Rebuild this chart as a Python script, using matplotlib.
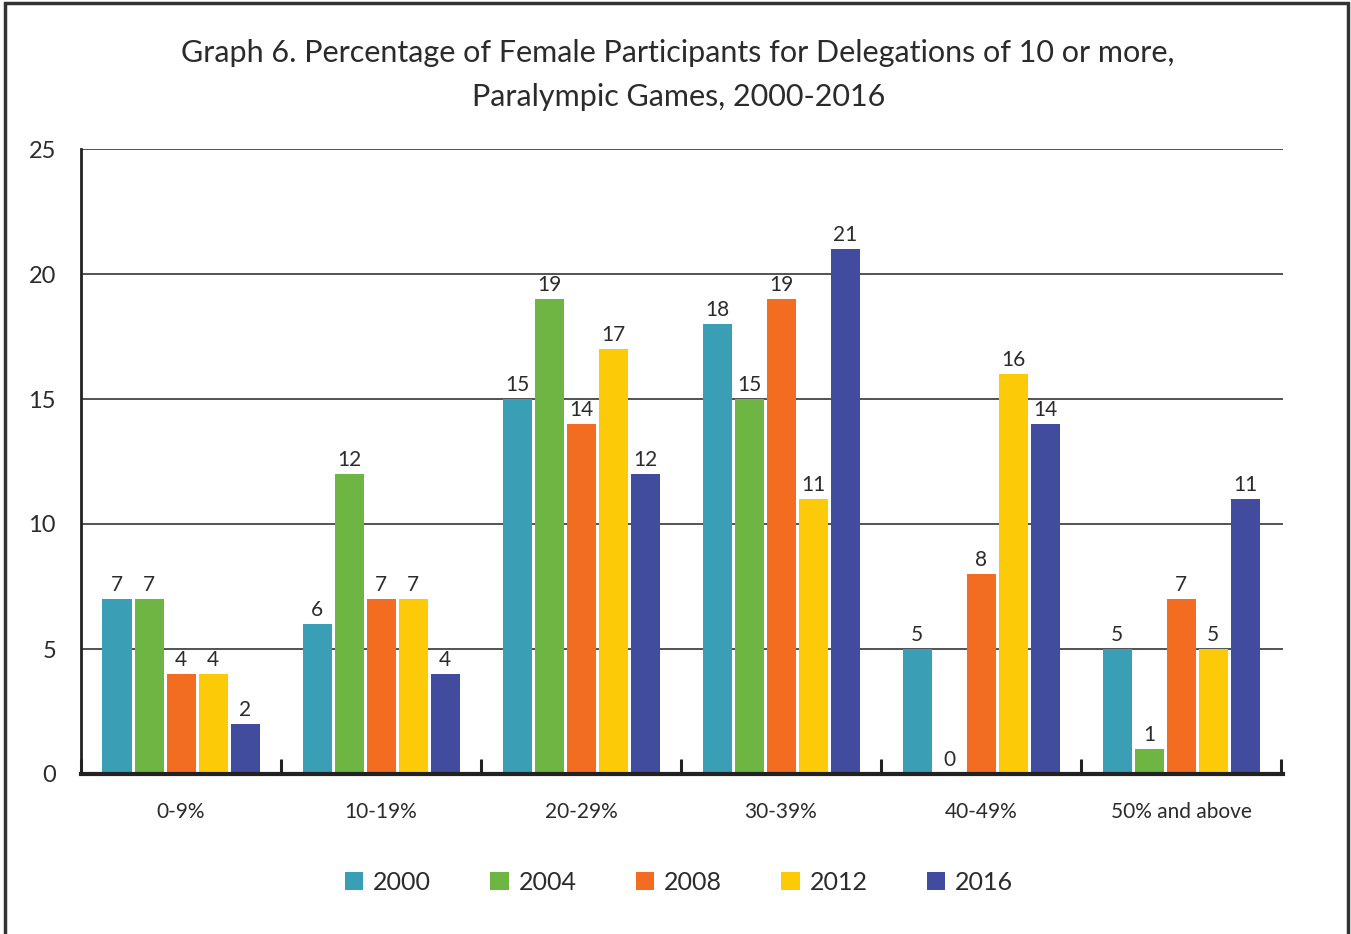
import matplotlib
matplotlib.use("Agg")
import matplotlib.pyplot as plt
import numpy as np
from matplotlib.patches import Rectangle

plt.rcParams['font.family'] = ['Lato', 'DejaVu Sans']

categories = ["0-9%", "10-19%", "20-29%", "30-39%", "40-49%", "50% and above"]
years = ["2000", "2004", "2008", "2012", "2016"]
v2000 = [7, 6, 15, 18, 5, 5]
v2004 = [7, 12, 19, 15, 0, 1]
v2008 = [4, 7, 14, 19, 8, 7]
v2012 = [4, 7, 17, 11, 16, 5]
v2016 = [2, 4, 12, 21, 14, 11]
series = [v2000, v2004, v2008, v2012, v2016]
colors = ["#3A9FB5", "#6EB544", "#F26D22", "#FCCA07", "#424C9E"]
yticks = [0, 5, 10, 15, 20, 25]

text_color = "#2b2b2b"

fig = plt.figure(figsize=(13.51, 9.34), dpi=100)
ax = fig.add_axes([81/1351, 1-774/934, (1283-81)/1351, (774-149)/934])

x = np.arange(len(categories))
pitch = 0.16
width = 0.145
for i, (vals, c, yr) in enumerate(zip(series, colors, years)):
    offs = (i - 2) * pitch
    bars = ax.bar(x + offs, vals, width=width, color=c, label=yr, zorder=3)
    ax.bar_label(bars, labels=[str(v) for v in vals], padding=3,
                 fontsize=15, color=text_color)

ax.set_xlim(-0.5, 5.51)
ax.set_ylim(0, 25)
ax.set_yticks(yticks)
ax.set_yticklabels([str(t) for t in yticks], fontsize=17, color=text_color)
ax.yaxis.grid(True, color="#444444", linewidth=1.3, zorder=0)
ax.tick_params(axis='y', length=0, pad=18)

# category labels
ax.set_xticks(x)
ax.set_xticklabels(categories, fontsize=15, color=text_color)
ax.tick_params(axis='x', which='major', length=0, pad=20)
ax.set_xticks(np.arange(-0.5, 6.0, 1.0), minor=True)
ax.tick_params(axis='x', which='minor', direction='in', length=11, width=2.2, color="#222222")

for s in ['top', 'right']:
    ax.spines[s].set_visible(False)
ax.spines['left'].set_linewidth(2)
ax.spines['left'].set_color("#222222")
ax.spines['bottom'].set_linewidth(3)
ax.spines['bottom'].set_color("#222222")
ax.spines['bottom'].set_zorder(4)

fig.text(0.502, 1-75/934, "Graph 6. Percentage of Female Participants for Delegations of 10 or more,\nParalympic Games, 2000-2016",
         ha='center', va='center', fontsize=22, color=text_color, linespacing=1.7)

leg = fig.legend(loc='center', bbox_to_anchor=(0.5026, 1-882/934), ncol=5, frameon=False,
                 fontsize=18, handlelength=0.75, handleheight=0.75, handletextpad=0.4,
                 columnspacing=2.35)
for t in leg.get_texts():
    t.set_color(text_color)

frame = Rectangle((5/1351, -0.05), (1348-5)/1351, (1+0.05) - 3/934, transform=fig.transFigure,
                  fill=False, edgecolor="#333333", linewidth=2.5)
fig.patches.append(frame)

fig.savefig("out.png", dpi=100)
